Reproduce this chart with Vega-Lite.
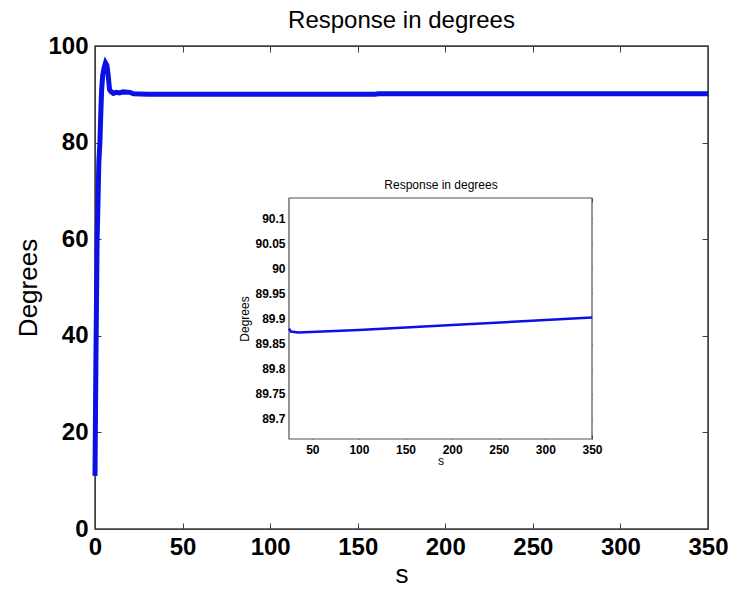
{
  "$schema": "https://vega.github.io/schema/vega-lite/v6.json",
  "width": 613,
  "height": 483,
  "autosize": {"type": "none"},
  "padding": {"left": 95, "top": 46, "right": 23, "bottom": 60},
  "background": "white",
  "title": {"text": "Response in degrees", "fontSize": 24, "font": "Liberation Sans", "fontWeight": "normal", "color": "black", "offset": 1},
  "config": {
    "view": {"stroke": "#404040", "strokeWidth": 1.5},
    "axis": {"grid": false, "labelFont": "Liberation Sans", "titleFont": "Liberation Sans", "labelColor": "black", "titleColor": "black", "titleFontWeight": "normal", "tickColor": "#404040", "domainColor": "#404040", "labelFlush": false, "labelOverlap": false}
  },
  "datasets": {
    "main": [
      {"t": 0, "d": 11}, {"t": 0.3, "d": 25}, {"t": 0.5, "d": 34}, {"t": 0.8, "d": 45}, {"t": 1.2, "d": 60},
      {"t": 1.6, "d": 66}, {"t": 2.2, "d": 76}, {"t": 2.8, "d": 80}, {"t": 3.3, "d": 86}, {"t": 3.8, "d": 91},
      {"t": 4.4, "d": 94}, {"t": 5.2, "d": 95.5}, {"t": 6, "d": 96.5}, {"t": 6.8, "d": 96}, {"t": 7.5, "d": 94},
      {"t": 8.3, "d": 91}, {"t": 9.3, "d": 90.5}, {"t": 10.5, "d": 90.2}, {"t": 12, "d": 90.4}, {"t": 14, "d": 90.3},
      {"t": 16, "d": 90.5}, {"t": 20, "d": 90.4}, {"t": 22, "d": 90.1}, {"t": 30, "d": 90}, {"t": 160, "d": 90},
      {"t": 162, "d": 90.1}, {"t": 350, "d": 90.1}
    ],
    "inset": [
      {"t": 25, "d": 89.88}, {"t": 27, "d": 89.874}, {"t": 35, "d": 89.872}, {"t": 100, "d": 89.877},
      {"t": 200, "d": 89.887}, {"t": 300, "d": 89.897}, {"t": 350, "d": 89.902}
    ],
    "frame": [{"t": 25, "t2": 350, "d": 89.66, "d2": 90.14}]
  },
  "layer": [
    {
      "data": {"name": "main"},
      "mark": {"type": "line", "color": "#0a10e6", "strokeWidth": 5},
      "encoding": {
        "x": {"field": "t", "type": "quantitative", "scale": {"domain": [0, 350], "nice": false},
          "axis": {"orient": "bottom", "values": [0, 50, 100, 150, 200, 250, 300, 350], "labelFontSize": 24, "labelFontWeight": "bold", "tickSize": -6, "labelPadding": 12, "title": "s", "titleFontSize": 26, "titlePadding": 2}},
        "y": {"field": "d", "type": "quantitative", "scale": {"domain": [0, 100], "nice": false},
          "axis": {"orient": "left", "values": [0, 20, 40, 60, 80, 100], "labelFontSize": 24, "labelFontWeight": "bold", "tickSize": -6, "labelPadding": 13, "title": "Degrees", "titleFontSize": 26, "titlePadding": 6}}
      }
    },
    {
      "data": {"name": "main"},
      "mark": {"type": "point", "opacity": 0},
      "encoding": {
        "x": {"field": "t", "type": "quantitative", "scale": {"domain": [0, 350], "nice": false},
          "axis": {"orient": "top", "values": [0, 50, 100, 150, 200, 250, 300, 350], "labels": false, "tickSize": -6, "title": null}},
        "y": {"field": "d", "type": "quantitative", "scale": {"domain": [0, 100], "nice": false},
          "axis": {"orient": "right", "values": [0, 20, 40, 60, 80, 100], "labels": false, "tickSize": -6, "title": null}}
      }
    },
    {
      "encoding": {
        "x": {"field": "t", "type": "quantitative", "scale": {"domain": [25, 350], "nice": false, "range": [194, 497]},
          "axis": {"orient": "bottom", "offset": -90, "domain": false, "values": [50, 100, 150, 200, 250, 300, 350], "labelFontSize": 12, "labelFontWeight": "bold", "tickSize": -4, "labelPadding": 9, "title": "s", "titleFontSize": 12, "titlePadding": 0}},
        "y": {"field": "d", "type": "quantitative", "scale": {"domain": [89.66, 90.14], "nice": false, "range": [393, 152]},
          "axis": {"orient": "left", "offset": -194, "domain": false, "values": [89.7, 89.75, 89.8, 89.85, 89.9, 89.95, 90, 90.05, 90.1], "format": ".2~f", "labelFontSize": 12, "labelFontWeight": "bold", "tickSize": -4, "labelPadding": 8, "title": "Degrees", "titleFontSize": 12, "titlePadding": 3}}
      },
      "layer": [
        {
          "data": {"name": "frame"},
          "mark": {"type": "rect", "fill": "white", "stroke": "#505050", "strokeWidth": 1.2},
          "encoding": {"x2": {"field": "t2"}, "y2": {"field": "d2"}}
        },
        {
          "data": {"name": "inset"},
          "mark": {"type": "line", "color": "#0a10e6", "strokeWidth": 2.5},
          "encoding": {}
        }
      ]
    },
    {
      "data": {"name": "inset"},
      "mark": {"type": "point", "opacity": 0},
      "encoding": {
        "x": {"field": "t", "type": "quantitative", "scale": {"domain": [25, 350], "nice": false, "range": [194, 497]},
          "axis": {"orient": "top", "offset": -152, "domain": false, "values": [50, 100, 150, 200, 250, 300, 350], "labels": false, "tickSize": -4, "title": "Response in degrees", "titleFontSize": 12, "titlePadding": 6}},
        "y": {"field": "d", "type": "quantitative", "scale": {"domain": [89.66, 90.14], "nice": false, "range": [393, 152]},
          "axis": {"orient": "right", "offset": -116, "domain": false, "values": [89.7, 89.75, 89.8, 89.85, 89.9, 89.95, 90, 90.05, 90.1], "labels": false, "tickSize": -4, "title": null}}
      }
    }
  ],
  "resolve": {"scale": {"x": "independent", "y": "independent"}, "axis": {"x": "independent", "y": "independent"}}
}
